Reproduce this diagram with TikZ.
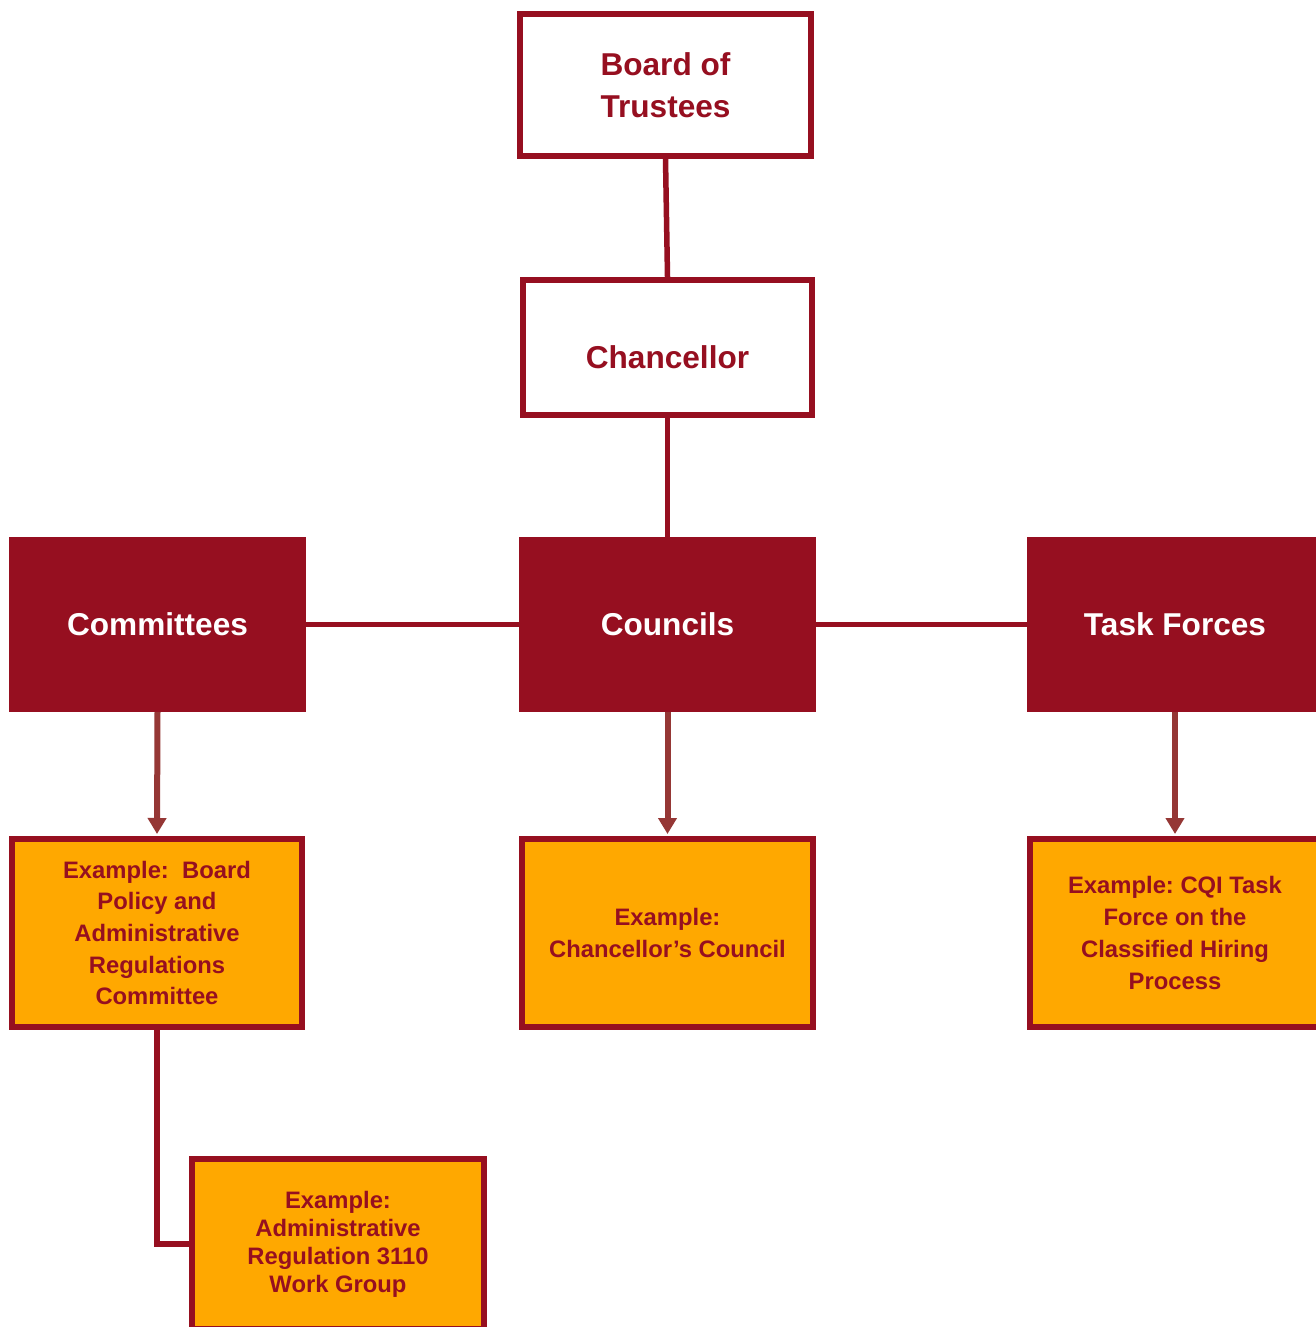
\documentclass[tikz,border=0pt]{standalone}
\usepackage{fontspec}
\setmainfont{Liberation Sans}
\usetikzlibrary{arrows.meta}
\definecolor{deepred}{RGB}{150,15,32}
\definecolor{gold}{RGB}{255,168,0}
\definecolor{arrowred}{RGB}{149,55,53}
\frenchspacing
\begin{document}
\begin{tikzpicture}[x=.5pt,y=-.5pt,
    head/.style={draw=deepred,line width=3pt,fill=white,text=deepred,align=center,
      font=\bfseries\fontsize{15.8}{21}\selectfont},
    group/.style={fill=deepred,text=white,outer sep=0pt,minimum width=148.5pt,
      minimum height=87.5pt,font=\bfseries\fontsize{15.8}{19}\selectfont},
    example/.style={draw=deepred,line width=3pt,fill=gold,text=deepred,align=center,
      minimum width=145pt,minimum height=94pt,font=\bfseries\fontsize{11.9}{15.85}\selectfont},
    link/.style={draw=deepred,line width=2.75pt},
    down/.style={draw=arrowred,line width=3pt,-{Triangle[width=9pt,length=8pt]},shorten >=1pt}]
  \useasboundingbox (0,0) rectangle (1316,1327);
  \clip (0,0) rectangle (1316,1327);
  \fill[white] (0,0) rectangle (1316,1327);
  % top of the chart
  \node[head,minimum width=145.5pt,minimum height=70.5pt] (board) at (665.5,85) {Board of\\Trustees};
  \node[head,minimum width=144.5pt,minimum height=67.5pt,text height=21pt,text depth=0pt] (chan) at (667.5,347.5) {Chancellor};
  % groups
  \node[group] (committees) at (157.5,624.5) {Committees};
  \node[group] (councils) at (667.5,624.5) {Councils};
  \node[group] (taskforces) at (1175,624.5) {Task Forces};
  % examples
  \node[example] (excom) at (157,933) {Example:~ Board\\Policy and\\Administrative\\Regulations\\Committee};
  \node[example,minimum width=145.5pt] (excou) at (667.5,933) {Example:\\Chancellor’s Council};
  \node[example] (extask) at (1175,933) {Example: CQI Task\\Force on the\\Classified Hiring\\Process};
  \node[example,minimum width=146pt,minimum height=85pt,font=\bfseries\fontsize{11.9}{14}\selectfont] (exwork) at (338,1244) {Example:\\Administrative\\Regulation 3110\\Work Group};
  % connectors
  \draw[link] (board.south) -- (chan.north);
  \draw[link] (chan.south) -- (councils.north);
  \draw[link] (committees.east) -- (councils.west);
  \draw[link] (councils.east) -- (taskforces.west);
  \draw[link] (excom.south) |- (exwork.west);
  \draw[down] (committees.south) -- (excom.north);
  \draw[down] (councils.south) -- (excou.north);
  \draw[down] (taskforces.south) -- (extask.north);
\end{tikzpicture}
\end{document}
